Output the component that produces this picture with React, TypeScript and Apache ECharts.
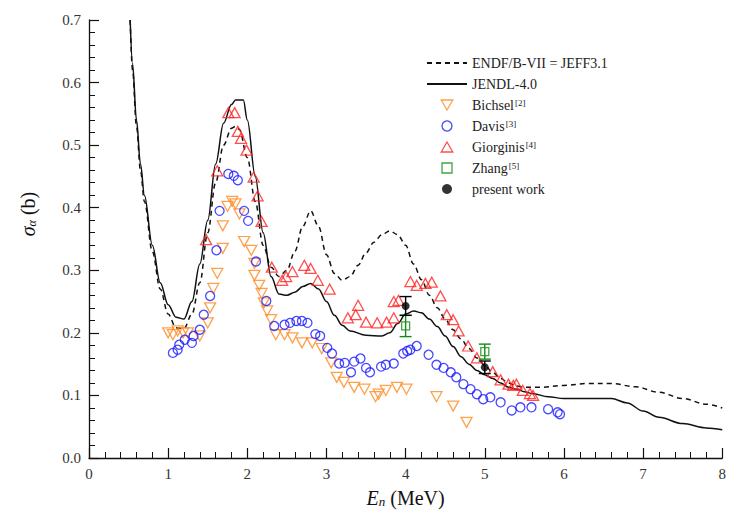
import React, { useEffect, useRef } from "react";
import * as echarts from "echarts";

// ---- evaluated curves (E in MeV, sigma in b) ----
const endfE = [0.52, 0.55, 0.6, 0.65, 0.7, 0.8, 0.9, 1.0, 1.1, 1.2, 1.3, 1.4, 1.5, 1.6, 1.7, 1.8, 1.85, 1.9, 2.0, 2.1, 2.2, 2.3, 2.4, 2.5, 2.6, 2.7, 2.8, 2.9, 3.0, 3.1, 3.2, 3.3, 3.4, 3.5, 3.6, 3.7, 3.8, 3.9, 4.0, 4.1, 4.2, 4.3, 4.4, 4.5, 4.6, 4.7, 4.8, 4.9, 5.0, 5.1, 5.2, 5.3, 5.4, 5.5, 5.7, 6.0, 6.3, 6.6, 6.9, 7.2, 7.5, 7.8, 8.0];
const endfS = [0.70, 0.62, 0.53, 0.46, 0.41, 0.33, 0.27, 0.23, 0.208, 0.207, 0.23, 0.28, 0.36, 0.44, 0.50, 0.527, 0.53, 0.525, 0.48, 0.41, 0.34, 0.305, 0.29, 0.30, 0.33, 0.37, 0.395, 0.37, 0.325, 0.295, 0.284, 0.29, 0.308, 0.328, 0.345, 0.357, 0.363, 0.357, 0.34, 0.31, 0.285, 0.26, 0.24, 0.222, 0.205, 0.19, 0.175, 0.16, 0.148, 0.137, 0.127, 0.12, 0.115, 0.113, 0.113, 0.116, 0.119, 0.119, 0.114, 0.105, 0.095, 0.086, 0.08];

const jendlE = [0.52, 0.55, 0.6, 0.65, 0.7, 0.8, 0.9, 1.0, 1.1, 1.2, 1.3, 1.4, 1.5, 1.6, 1.7, 1.8, 1.85, 1.95, 2.0, 2.1, 2.2, 2.3, 2.4, 2.5, 2.6, 2.7, 2.8, 2.9, 3.0, 3.1, 3.2, 3.3, 3.5, 3.7, 3.8, 3.9, 4.0, 4.1, 4.2, 4.3, 4.4, 4.5, 4.6, 4.7, 4.8, 4.9, 5.0, 5.1, 5.2, 5.3, 5.4, 5.5, 5.6, 5.8, 6.0, 6.3, 6.6, 6.8, 7.0, 7.2, 7.5, 7.8, 8.0];
const jendlS = [0.70, 0.63, 0.54, 0.47, 0.42, 0.34, 0.28, 0.245, 0.225, 0.222, 0.25, 0.31, 0.38, 0.47, 0.535, 0.565, 0.572, 0.572, 0.54, 0.45, 0.36, 0.29, 0.262, 0.26, 0.265, 0.274, 0.279, 0.27, 0.25, 0.228, 0.212, 0.203, 0.196, 0.195, 0.2, 0.215, 0.23, 0.235, 0.232, 0.222, 0.21, 0.195, 0.178, 0.162, 0.15, 0.14, 0.133, 0.127, 0.12, 0.113, 0.11, 0.106, 0.103, 0.098, 0.095, 0.095, 0.095, 0.088, 0.075, 0.065, 0.055, 0.048, 0.045];

// ---- measurements [E, sigma] ----
const bichsel = [[1.0, 0.2], [1.06, 0.197], [1.12, 0.203], [1.19, 0.2], [1.25, 0.2], [1.4, 0.195], [1.5, 0.216], [1.53, 0.24], [1.57, 0.271], [1.62, 0.295], [1.69, 0.335], [1.69, 0.371], [1.75, 0.402], [1.81, 0.41], [1.85, 0.406], [1.9, 0.39], [1.96, 0.346], [2.05, 0.332], [2.09, 0.311], [2.09, 0.292], [2.15, 0.276], [2.18, 0.263], [2.21, 0.248], [2.25, 0.235], [2.3, 0.221], [2.36, 0.197], [2.47, 0.197], [2.57, 0.192], [2.69, 0.184], [2.82, 0.184], [2.94, 0.175], [3.06, 0.152], [3.13, 0.129], [3.22, 0.121], [3.35, 0.113], [3.48, 0.11], [3.62, 0.098], [3.66, 0.102], [3.75, 0.108], [3.89, 0.113], [4.01, 0.11], [4.39, 0.098], [4.6, 0.083], [4.77, 0.057]];
const davis = [[1.06, 0.168], [1.12, 0.173], [1.14, 0.181], [1.21, 0.189], [1.3, 0.184], [1.32, 0.195], [1.4, 0.205], [1.45, 0.229], [1.53, 0.259], [1.61, 0.332], [1.65, 0.395], [1.76, 0.454], [1.83, 0.451], [1.88, 0.444], [1.96, 0.395], [2.01, 0.379], [2.11, 0.314], [2.24, 0.251], [2.34, 0.211], [2.47, 0.213], [2.54, 0.216], [2.62, 0.219], [2.69, 0.219], [2.76, 0.216], [2.86, 0.198], [2.92, 0.195], [3.01, 0.176], [3.07, 0.167], [3.16, 0.151], [3.23, 0.152], [3.31, 0.137], [3.35, 0.154], [3.43, 0.159], [3.5, 0.144], [3.55, 0.137], [3.69, 0.146], [3.75, 0.149], [3.85, 0.151], [3.97, 0.167], [4.02, 0.171], [4.06, 0.173], [4.14, 0.179], [4.29, 0.165], [4.39, 0.149], [4.48, 0.144], [4.57, 0.137], [4.64, 0.129], [4.73, 0.118], [4.82, 0.11], [4.9, 0.102], [4.98, 0.094], [5.07, 0.097], [5.2, 0.089], [5.34, 0.076], [5.45, 0.081], [5.59, 0.081], [5.8, 0.078], [5.92, 0.073], [5.95, 0.07]];
const giorginis = [[1.48, 0.349], [1.62, 0.459], [1.76, 0.552], [1.84, 0.552], [1.88, 0.522], [1.92, 0.511], [1.99, 0.492], [2.08, 0.449], [2.13, 0.419], [2.18, 0.378], [2.31, 0.305], [2.44, 0.284], [2.49, 0.29], [2.57, 0.298], [2.72, 0.308], [2.8, 0.303], [2.89, 0.284], [3.04, 0.27], [3.27, 0.224], [3.37, 0.229], [3.4, 0.244], [3.5, 0.217], [3.64, 0.216], [3.76, 0.217], [3.85, 0.224], [3.85, 0.25], [3.91, 0.252], [4.06, 0.282], [4.14, 0.276], [4.25, 0.279], [4.33, 0.281], [4.44, 0.259], [4.52, 0.229], [4.6, 0.221], [4.67, 0.203], [4.79, 0.179], [4.9, 0.16], [5.1, 0.138], [5.2, 0.125], [5.3, 0.118], [5.36, 0.116], [5.4, 0.118], [5.48, 0.108], [5.57, 0.103], [5.61, 0.1]];
// [E, sigma, error]
const zhang = [[4.0, 0.211, 0.017], [5.0, 0.17, 0.012]];
const present = [[4.0, 0.243, 0.015], [5.0, 0.145, 0.01]];

const xTicks = [0, 1, 2, 3, 4, 5, 6, 7, 8];
const yTicks = [0, 0.1, 0.2, 0.3, 0.4, 0.5, 0.6, 0.7];

const SERIF = "Liberation Serif, DejaVu Serif, serif";
const ORANGE = "#ff8a1f";
const BLUE = "#1a1aff";
const RED = "#ff2222";
const GREEN = "#168c16";

const zip = (a: number[], b: number[]) => a.map((v, i) => [v, b[i]]);

function errorBars(color: string) {
  return (params: any, api: any) => {
    const x = api.value(0);
    const y = api.value(1);
    const e = api.value(2);
    const top = api.coord([x, y + e]);
    const bot = api.coord([x, y - e]);
    const hw = 6;
    const st = { stroke: color, lineWidth: 1.4 };
    return {
      type: "group",
      children: [
        { type: "line", shape: { x1: top[0], y1: top[1], x2: bot[0], y2: bot[1] }, style: st },
        { type: "line", shape: { x1: top[0] - hw, y1: top[1], x2: top[0] + hw, y2: top[1] }, style: st },
        { type: "line", shape: { x1: bot[0] - hw, y1: bot[1], x2: bot[0] + hw, y2: bot[1] }, style: st },
      ],
    };
  };
}

const supMap: Record<string, string> = { Bichsel: "[2]", Davis: "[3]", Giorginis: "[4]", Zhang: "[5]" };
const legendNames = ["ENDF/B-VII = JEFF3.1", "JENDL-4.0", "Bichsel", "Davis", "Giorginis", "Zhang", "present work"];

export default function App() {
  const ref = useRef<HTMLDivElement>(null);
  useEffect(() => {
    if (!ref.current) return;
    const chart = echarts.init(ref.current, null, { renderer: "svg" });
    const hollow = (c: string) => ({ color: "rgba(255,255,255,0)", borderColor: c, borderWidth: 1.3 });
    chart.setOption({
      animation: false,
      backgroundColor: "#fff",
      textStyle: { fontFamily: SERIF },
      grid: { left: 89, right: 4, top: 20, bottom: 52 },
      xAxis: {
        type: "value",
        min: 0,
        max: 8,
        interval: 1,
        name: "{i|E}{sub|n} (MeV)",
        nameLocation: "middle",
        nameGap: 29,
        nameTextStyle: {
          fontFamily: SERIF,
          fontSize: 20,
          color: "#111",
          rich: {
            i: { fontFamily: SERIF, fontSize: 20, fontStyle: "italic", color: "#111" },
            sub: { fontFamily: SERIF, fontSize: 13, fontStyle: "italic", color: "#111", verticalAlign: "bottom", padding: [8, 0, 0, 0] },
          },
        },
        axisLine: { lineStyle: { color: "#111", width: 1.3 } },
        axisTick: { inside: true, length: 10, lineStyle: { color: "#111", width: 1.2 } },
        minorTick: { show: true, splitNumber: 5, length: 6, lineStyle: { color: "#111", width: 1 } },
        splitLine: { show: false },
        axisLabel: { fontFamily: SERIF, fontSize: 15, color: "#333", margin: 8, formatter: (v: number) => (xTicks.includes(v) ? String(v) : "") },
      },
      yAxis: {
        type: "value",
        min: 0,
        max: 0.7,
        interval: 0.1,
        axisLine: { show: true, lineStyle: { color: "#111", width: 1.3 } },
        axisTick: { show: true, inside: true, length: 10, lineStyle: { color: "#111", width: 1.2 } },
        minorTick: { show: true, splitNumber: 5, length: 6, lineStyle: { color: "#111", width: 1 } },
        splitLine: { show: false },
        axisLabel: {
          fontFamily: SERIF,
          fontSize: 15,
          color: "#333",
          margin: 8,
          formatter: (v: number) => {
            const t = yTicks.find((k) => Math.abs(k - v) < 1e-6);
            return t === undefined ? "" : t.toFixed(1);
          },
        },
      },
      legend: {
        orient: "vertical",
        left: 421,
        top: 51,
        itemWidth: 40,
        itemHeight: 10,
        itemGap: 7,
        selectedMode: false,
        data: legendNames.map((n, i) => (i < 2 ? { name: n, itemStyle: { opacity: 0 } } : { name: n })),
        itemStyle: { borderWidth: 1.3 },
        formatter: (name: string) => (supMap[name] ? `{a|${name}}{s|${supMap[name]}}` : `{a|${name}}`),
        textStyle: {
          fontFamily: SERIF,
          fontSize: 14,
          color: "#222",
          rich: {
            a: { fontFamily: SERIF, fontSize: 14, color: "#222", lineHeight: 14 },
            s: { fontFamily: SERIF, fontSize: 9, color: "#222", verticalAlign: "top", lineHeight: 14, padding: [0, 0, 5, 1] },
          },
        },
      },
      graphic: [
        {
          type: "text",
          x: 28,
          y: 214,
          rotation: Math.PI / 2,
          style: {
            text: "{i|σ}{sub|α} (b)",
            align: "center",
            verticalAlign: "middle",
            fontFamily: SERIF,
            fontSize: 20,
            fill: "#111",
            rich: {
              i: { fontFamily: SERIF, fontSize: 20, fontStyle: "italic", fill: "#111" },
              sub: { fontFamily: SERIF, fontSize: 12, fontStyle: "italic", fill: "#111", verticalAlign: "bottom", padding: [8, 0, 0, 0] },
            },
          },
        },
      ],
      series: [
        {
          name: "ENDF/B-VII = JEFF3.1",
          type: "line",
          data: zip(endfE, endfS),
          symbol: "none",
          smooth: 0.35,
          smoothMonotone: "x",
          lineStyle: { color: "#111", width: 1.5, type: [5, 4] },
          itemStyle: { color: "#111" },
          z: 1,
        },
        {
          name: "JENDL-4.0",
          type: "line",
          data: zip(jendlE, jendlS),
          symbol: "none",
          smooth: 0.35,
          smoothMonotone: "x",
          lineStyle: { color: "#111", width: 1.5 },
          itemStyle: { color: "#111" },
          z: 1,
        },
        {
          name: "Bichsel",
          type: "scatter",
          data: bichsel,
          symbol: "path://M0,0L10,0L5,8.66Z",
          symbolSize: [11, 10],
          itemStyle: hollow(ORANGE),
          z: 3,
        },
        {
          name: "Davis",
          type: "scatter",
          data: davis,
          symbol: "circle",
          symbolSize: 9,
          itemStyle: hollow(BLUE),
          z: 3,
        },
        {
          name: "Giorginis",
          type: "scatter",
          data: giorginis,
          symbol: "path://M5,0L10,8.66L0,8.66Z",
          symbolSize: [11, 10],
          itemStyle: hollow(RED),
          z: 3,
        },
        {
          name: "Zhang",
          type: "scatter",
          data: zhang.map((d) => [d[0], d[1]]),
          symbol: "path://M0,0L10,0L10,10L0,10Z",
          symbolSize: 8,
          itemStyle: hollow(GREEN),
          z: 4,
        },
        {
          name: "zhangErr",
          type: "custom",
          data: zhang,
          encode: { x: 0, y: 1 },
          renderItem: errorBars(GREEN),
          z: 4,
        },
        {
          name: "present work",
          type: "scatter",
          data: present.map((d) => [d[0], d[1]]),
          symbol: "circle",
          symbolSize: 8,
          itemStyle: { color: "#000" },
          z: 5,
        },
        {
          name: "presentErr",
          type: "custom",
          data: present,
          encode: { x: 0, y: 1 },
          renderItem: errorBars("#000"),
          z: 5,
        },
      ],
    });
    return () => chart.dispose();
  }, []);
  return <div ref={ref} style={{ width: 729, height: 513, position: "absolute", left: 0, top: 0 }} />;
}
